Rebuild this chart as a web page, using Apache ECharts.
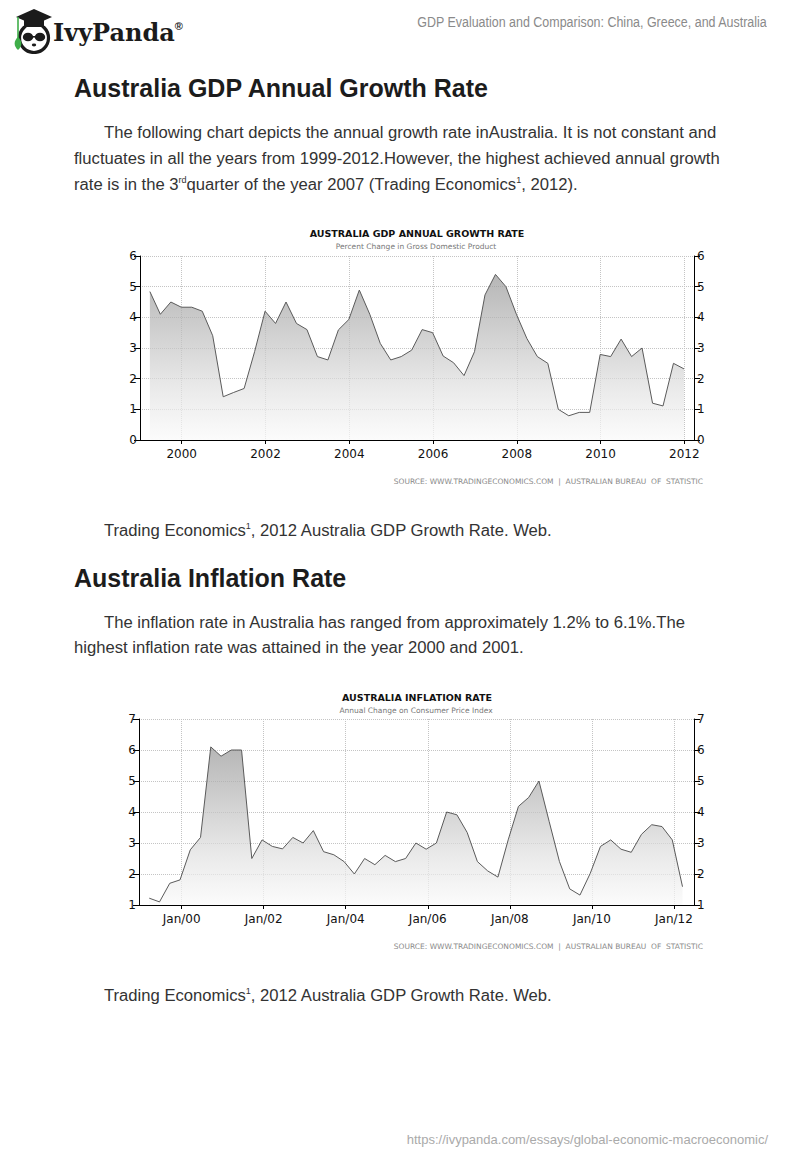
<!DOCTYPE html>
<html><head><meta charset="utf-8">
<script src="https://cdn.jsdelivr.net/npm/echarts@6/dist/echarts.min.js"></script>
<style>
body{margin:0;background:#fff;}
#page{position:relative;width:800px;height:1160px;overflow:hidden;font-family:"Liberation Sans",Arial,sans-serif;background:#fff;}
.t{position:absolute;white-space:nowrap;line-height:26px;height:26px;}
.h2{font-size:25px;font-weight:bold;color:#1c1c1c;}
.p{font-size:16.65px;color:#333;}
sup{font-size:9px;line-height:0;vertical-align:7px;}
#chart{position:absolute;left:0;top:0;width:800px;height:1160px;}
</style></head><body>
<div id="page">
<div id="chart"></div>
<svg style="position:absolute;left:12px;top:6px" width="42" height="48" viewBox="0 0 42 48">
  <circle cx="22" cy="32" r="14.5" fill="#fff" stroke="#1b1b1b" stroke-width="3.2"/>
  <polygon points="4,11 22,3 40,11 22,19" fill="#1b1b1b"/>
  <rect x="12" y="12" width="20" height="9" fill="#1b1b1b"/>
  <ellipse cx="16" cy="31" rx="5.2" ry="4.3" fill="#1b1b1b"/>
  <ellipse cx="28" cy="31" rx="5.2" ry="4.3" fill="#1b1b1b"/>
  <rect x="20" y="30" width="4" height="1.6" fill="#1b1b1b"/>
  <ellipse cx="22" cy="39" rx="2.2" ry="1.4" fill="#1b1b1b"/>
  <line x1="6" y1="11" x2="6" y2="34" stroke="#3fae49" stroke-width="1.6"/>
  <path d="M6,31 C1.5,35 1.5,40 6,44 C10.5,40 10.5,35 6,31 Z" fill="#3fae49"/>
</svg>
<div class="t" style="left:53px;top:20px;font-family:'DejaVu Serif',serif;font-weight:bold;font-size:24px;color:#1b1b1b;">IvyPanda<sup style="font-size:11px;vertical-align:11px;font-family:'Liberation Sans',sans-serif;">®</sup></div>
<div class="t" style="right:33px;top:9px;font-family:'Liberation Sans',sans-serif;font-size:14px;color:#8a8a8a;transform:scaleX(0.89);transform-origin:right center;">GDP Evaluation and Comparison: China, Greece, and Australia</div>

<div class="t h2" style="left:74px;top:75px;">Australia GDP Annual Growth Rate</div>
<div class="t p" style="left:104px;top:120px;">The following chart depicts the annual growth rate inAustralia. It is not constant and</div>
<div class="t p" style="left:74px;top:146px;">fluctuates in all the years from 1999-2012.However, the highest achieved annual growth</div>
<div class="t p" style="left:74px;top:172px;">rate is in the 3<sup>rd</sup>quarter of the year 2007 (Trading Economics<sup>1</sup>, 2012).</div>
<div class="t p" style="left:104px;top:518px;">Trading Economics<sup>1</sup>, 2012 Australia GDP Growth Rate. Web.</div>

<div class="t h2" style="left:74px;top:565px;">Australia Inflation Rate</div>
<div class="t p" style="left:104px;top:610px;">The inflation rate in Australia has ranged from approximately 1.2% to 6.1%.The</div>
<div class="t p" style="left:74px;top:635px;">highest inflation rate was attained in the year 2000 and 2001.</div>
<div class="t p" style="left:104px;top:983px;">Trading Economics<sup>1</sup>, 2012 Australia GDP Growth Rate. Web.</div>

<div class="t" style="right:32px;top:1127px;font-size:13px;color:#aaa;">https://ivypanda.com/essays/global-economic-macroeconomic/</div>
</div>
<script>
// ---- data (quarterly) ----
const gdpFirstQuarter = 1999.24;   // year position of first quarterly observation
const gdpValues = [
  4.84, 4.1, 4.5,
  4.33, 4.33, 4.2, 3.4,
  1.41, 1.55, 1.68, 2.88,
  4.2, 3.8, 4.5, 3.8,
  3.6, 2.72, 2.61, 3.59,
  3.93, 4.89, 4.1, 3.15,
  2.61, 2.72, 2.93, 3.6,
  3.5, 2.74, 2.52, 2.1,
  2.88, 4.73, 5.4, 5.0,
  4.1, 3.31, 2.72, 2.5,
  1.0, 0.79, 0.9, 0.9,
  2.79, 2.72, 3.29, 2.72,
  3.0, 1.2, 1.11, 2.5,
  2.32
];
const cpiFirstQuarter = 1999.21;
const cpiValues = [
  1.22, 1.1, 1.7, 1.81,
  2.78, 3.18, 6.1, 5.8,
  6.0, 6.0, 2.5, 3.1,
  2.89, 2.81, 3.18, 3.0,
  3.4, 2.72, 2.62, 2.4,
  2.0, 2.5, 2.3, 2.6,
  2.4, 2.5, 3.0, 2.8,
  3.0, 4.0, 3.91, 3.34,
  2.4, 2.1, 1.9, 3.1,
  4.18, 4.47, 5.0, 3.69,
  2.4, 1.52, 1.32, 2.02,
  2.89, 3.1, 2.8, 2.7,
  3.28, 3.59, 3.53, 3.1,
  1.59
];
const yearTicks = [2000, 2002, 2004, 2006, 2008, 2010, 2012];
const gdpTitle = 'AUSTRALIA GDP ANNUAL GROWTH RATE';
const gdpSubtitle = 'Percent Change in Gross Domestic Product';
const cpiTitle = 'AUSTRALIA INFLATION RATE';
const cpiSubtitle = 'Annual Change on Consumer Price Index';
const sourceText = 'SOURCE: WWW.TRADINGECONOMICS.COM  |  AUSTRALIAN BUREAU  OF  STATISTIC';

function toPairs(first, vals){ return vals.map((v,i)=>[first + i*0.25, v]); }

const chart = echarts.init(document.getElementById('chart'), null, {renderer:'svg'});
const dotted = {show:true, lineStyle:{color:'#c4c4c4', type:'dotted', width:1}};
const axisFont = {color:'#111', fontSize:12, fontFamily:'DejaVu Sans'};
function xAx(gi, min, max, fmt){
  return {type:'value', gridIndex:gi, min, max,
    axisLine:{show:true, onZero:false, lineStyle:{color:'#000', width:1}},
    axisTick:{show:true, length:4, customValues:yearTicks, lineStyle:{color:'#000'}},
    axisLabel:Object.assign({customValues:yearTicks, formatter:fmt, margin:8}, axisFont),
    splitLine:dotted};
}
function yAx(gi, pos, min, max, split){
  return {type:'value', gridIndex:gi, position:pos, min, max, interval:1,
    axisLine:{show:true, lineStyle:{color:'#000', width:1}},
    axisTick:{show:true, length:6, lineStyle:{color:'#000'}},
    axisLabel:Object.assign({margin:3}, axisFont),
    splitLine: split ? dotted : {show:false}};
}
const area = {color:{type:'linear', x:0, y:0, x2:0, y2:1, colorStops:[
  {offset:0, color:'#979797'}, {offset:0.7, color:'#e2e2e2'}, {offset:1, color:'#fafafa'}]}};
function txt(text, x, y, size, color, weight, align){
  return {type:'text', x, y, style:{text, fill:color, font:(weight||'normal')+' '+size+'px "DejaVu Sans", Verdana, sans-serif', textAlign:align||'center', textVerticalAlign:'middle'}};
}
chart.setOption({
  animation:false,
  backgroundColor:'transparent',
  grid:[
    {left:140, top:256, width:554, height:184},
    {left:139, top:719, width:555, height:186}
  ],
  xAxis:[
    xAx(0, 1999.004, 2012.23, v=>String(v)),
    xAx(1, 1998.96, 2012.49, v=>'Jan/'+String(v).slice(2))
  ],
  yAxis:[
    yAx(0,'left',0,6,true), yAx(0,'right',0,6,false),
    yAx(1,'left',1,7,true), yAx(1,'right',1,7,false)
  ],
  series:[
    {type:'line', xAxisIndex:0, yAxisIndex:0, data:toPairs(gdpFirstQuarter, gdpValues), showSymbol:false, symbol:'none',
     lineStyle:{color:'#5a5a5a', width:1}, areaStyle:area},
    {type:'line', xAxisIndex:1, yAxisIndex:2, data:toPairs(cpiFirstQuarter, cpiValues), showSymbol:false, symbol:'none',
     lineStyle:{color:'#5a5a5a', width:1}, areaStyle:area}
  ],
  graphic:[
    txt(gdpTitle, 417, 233, 9.5, '#111', 'bold'),
    txt(gdpSubtitle, 416, 246, 7.5, '#777'),
    txt(sourceText, 703, 481, 7.5, '#8a8a8a', 'normal', 'right'),
    txt(cpiTitle, 417, 697, 9.5, '#111', 'bold'),
    txt(cpiSubtitle, 416, 710, 7.5, '#777'),
    txt(sourceText, 703, 946, 7.5, '#8a8a8a', 'normal', 'right')
  ]
});
</script>
</body></html>
